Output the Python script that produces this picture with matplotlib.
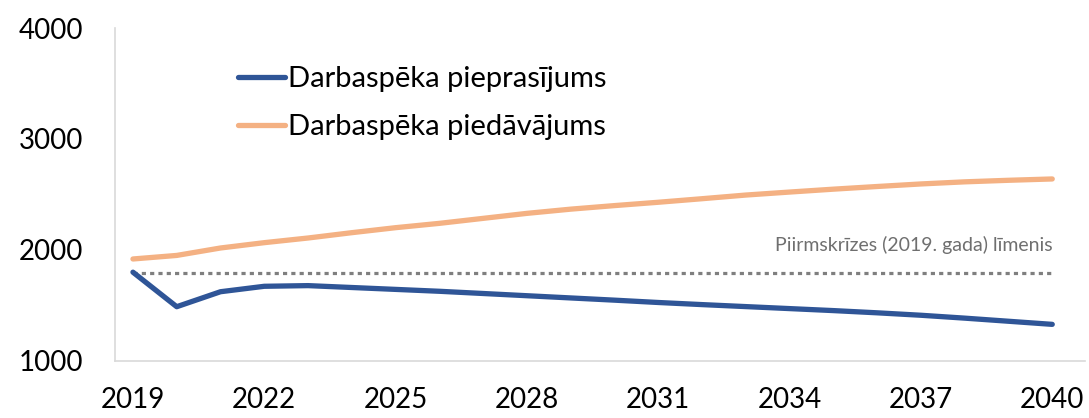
import matplotlib
matplotlib.use("Agg")
import matplotlib.pyplot as plt

# dati
gadi = list(range(2019, 2041))
pieprasijums = [1800, 1489, 1624, 1673, 1679, 1662, 1645, 1628, 1608, 1588,
                1568, 1548, 1527, 1508, 1490, 1472, 1454, 1434, 1412, 1386,
                1358, 1330]
piedavajums = [1919, 1951, 2018, 2066, 2108, 2156, 2201, 2240, 2285, 2330,
               2368, 2400, 2430, 2462, 2495, 2522, 2548, 2572, 2595, 2614,
               2628, 2640]
pirmskrizes_limenis = 1795
y_ticks = [1000, 2000, 3000, 4000]
x_ticks = [2019, 2022, 2025, 2028, 2031, 2034, 2037, 2040]

zils = '#2F5597'
oranzs = '#F4B183'
peleks = '#7F7F7F'

plt.rcParams['font.family'] = ['Lato', 'DejaVu Sans']

fig = plt.figure(figsize=(10.89, 4.18), dpi=100)
ax = fig.add_axes([0.1056, 0.1364, 0.8908, 0.7966])

ax.plot(gadi, pieprasijums, color=zils, lw=3.8, solid_capstyle='round',
        solid_joinstyle='round', label='Darbaspēka pieprasījums', zorder=3)
ax.plot(gadi, piedavajums, color=oranzs, lw=3.8, solid_capstyle='round',
        solid_joinstyle='round', label='Darbaspēka piedāvājums', zorder=3)
ax.plot([gadi[0], gadi[-1]], [pirmskrizes_limenis] * 2, color=peleks, lw=2.3,
        linestyle=(0, (1.3, 1.3)), dash_capstyle='butt', zorder=2)

ax.text(2040.0, 2045, 'Piirmskrīzes (2019. gada) līmenis',
        fontsize=14, color='#6F6F6F', ha='right', va='center')

ax.set_xlim(2018.59, 2040.75)
ax.set_ylim(1000, 4000)
ax.set_xticks(x_ticks)
ax.set_yticks(y_ticks)
ax.tick_params(length=0, labelsize=20, colors='black')
ax.tick_params(axis='x', pad=19)
ax.tick_params(axis='y', pad=23)

for s in ['top', 'right']:
    ax.spines[s].set_visible(False)
for s in ['left', 'bottom']:
    ax.spines[s].set_color('#D9D9D9')
    ax.spines[s].set_linewidth(1.2)

leg = ax.legend(loc='upper left', bbox_to_anchor=(0.115, 0.92), frameon=False,
                fontsize=21, handlelength=1.6, handletextpad=0.1,
                labelspacing=0.75, borderaxespad=0)

fig.savefig('out.png', dpi=100)
